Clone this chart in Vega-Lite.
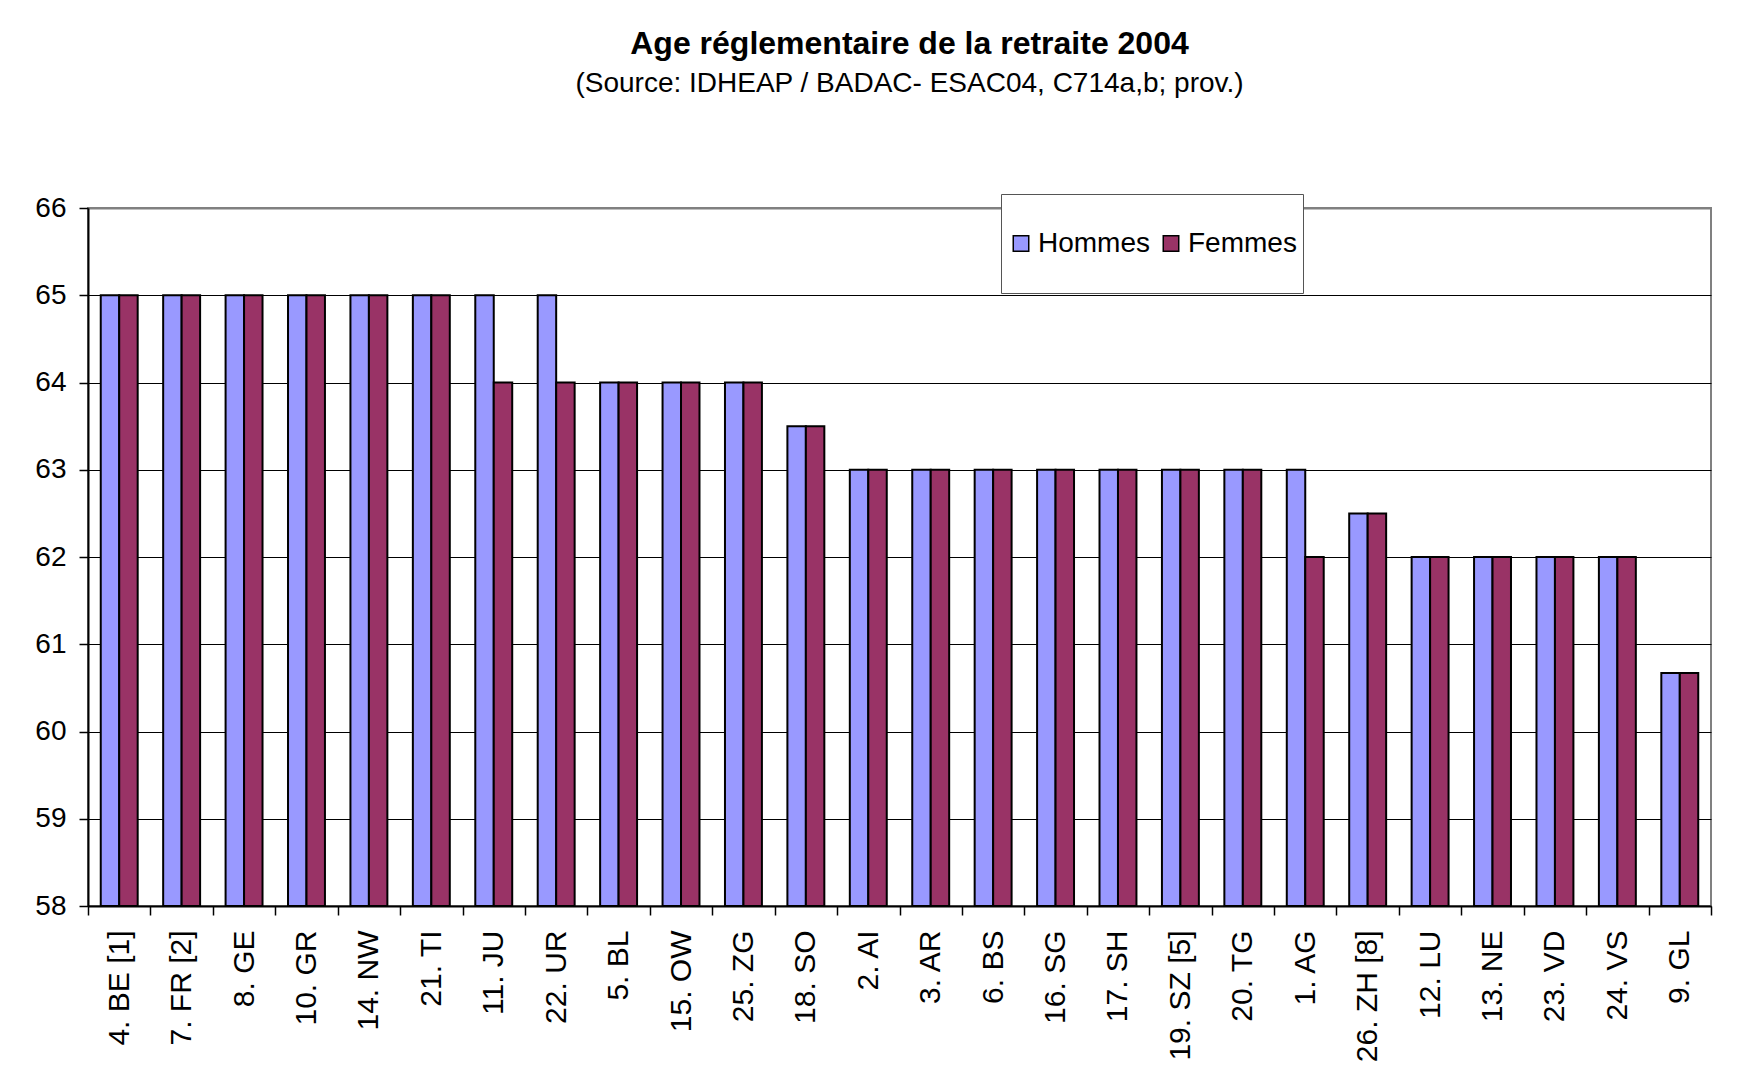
{
  "$schema": "https://vega.github.io/schema/vega-lite/v6.json",
  "width": 1623,
  "height": 698,
  "autosize": {"type": "none"},
  "padding": {"left": 88, "top": 208, "right": 31, "bottom": 181},
  "background": "white",
  "title": {
    "text": "Age réglementaire de la retraite 2004",
    "subtitle": "(Source: IDHEAP / BADAC- ESAC04, C714a,b; prov.)",
    "font": "Liberation Sans",
    "fontSize": 32,
    "fontWeight": "bold",
    "color": "black",
    "subtitleFont": "Liberation Sans",
    "subtitleFontSize": 28,
    "subtitleColor": "black",
    "subtitlePadding": 9,
    "anchor": "middle",
    "dx": 10,
    "offset": 95
  },
  "data": {
    "values": [
      {"canton": "4. BE [1]", "sexe": "Hommes", "age": 65}, {"canton": "4. BE [1]", "sexe": "Femmes", "age": 65},
      {"canton": "7. FR [2]", "sexe": "Hommes", "age": 65}, {"canton": "7. FR [2]", "sexe": "Femmes", "age": 65},
      {"canton": "8. GE", "sexe": "Hommes", "age": 65}, {"canton": "8. GE", "sexe": "Femmes", "age": 65},
      {"canton": "10. GR", "sexe": "Hommes", "age": 65}, {"canton": "10. GR", "sexe": "Femmes", "age": 65},
      {"canton": "14. NW", "sexe": "Hommes", "age": 65}, {"canton": "14. NW", "sexe": "Femmes", "age": 65},
      {"canton": "21. TI", "sexe": "Hommes", "age": 65}, {"canton": "21. TI", "sexe": "Femmes", "age": 65},
      {"canton": "11. JU", "sexe": "Hommes", "age": 65}, {"canton": "11. JU", "sexe": "Femmes", "age": 64},
      {"canton": "22. UR", "sexe": "Hommes", "age": 65}, {"canton": "22. UR", "sexe": "Femmes", "age": 64},
      {"canton": "5. BL", "sexe": "Hommes", "age": 64}, {"canton": "5. BL", "sexe": "Femmes", "age": 64},
      {"canton": "15. OW", "sexe": "Hommes", "age": 64}, {"canton": "15. OW", "sexe": "Femmes", "age": 64},
      {"canton": "25. ZG", "sexe": "Hommes", "age": 64}, {"canton": "25. ZG", "sexe": "Femmes", "age": 64},
      {"canton": "18. SO", "sexe": "Hommes", "age": 63.5}, {"canton": "18. SO", "sexe": "Femmes", "age": 63.5},
      {"canton": "2. AI", "sexe": "Hommes", "age": 63}, {"canton": "2. AI", "sexe": "Femmes", "age": 63},
      {"canton": "3. AR", "sexe": "Hommes", "age": 63}, {"canton": "3. AR", "sexe": "Femmes", "age": 63},
      {"canton": "6. BS", "sexe": "Hommes", "age": 63}, {"canton": "6. BS", "sexe": "Femmes", "age": 63},
      {"canton": "16. SG", "sexe": "Hommes", "age": 63}, {"canton": "16. SG", "sexe": "Femmes", "age": 63},
      {"canton": "17. SH", "sexe": "Hommes", "age": 63}, {"canton": "17. SH", "sexe": "Femmes", "age": 63},
      {"canton": "19. SZ [5]", "sexe": "Hommes", "age": 63}, {"canton": "19. SZ [5]", "sexe": "Femmes", "age": 63},
      {"canton": "20. TG", "sexe": "Hommes", "age": 63}, {"canton": "20. TG", "sexe": "Femmes", "age": 63},
      {"canton": "1. AG", "sexe": "Hommes", "age": 63}, {"canton": "1. AG", "sexe": "Femmes", "age": 62},
      {"canton": "26. ZH [8]", "sexe": "Hommes", "age": 62.5}, {"canton": "26. ZH [8]", "sexe": "Femmes", "age": 62.5},
      {"canton": "12. LU", "sexe": "Hommes", "age": 62}, {"canton": "12. LU", "sexe": "Femmes", "age": 62},
      {"canton": "13. NE", "sexe": "Hommes", "age": 62}, {"canton": "13. NE", "sexe": "Femmes", "age": 62},
      {"canton": "23. VD", "sexe": "Hommes", "age": 62}, {"canton": "23. VD", "sexe": "Femmes", "age": 62},
      {"canton": "24. VS", "sexe": "Hommes", "age": 62}, {"canton": "24. VS", "sexe": "Femmes", "age": 62},
      {"canton": "9. GL", "sexe": "Hommes", "age": 60.67}, {"canton": "9. GL", "sexe": "Femmes", "age": 60.67}
    ]
  },
  "mark": {"type": "bar", "stroke": "black", "strokeWidth": 2},
  "encoding": {
    "x": {
      "field": "canton",
      "type": "nominal",
      "sort": null,
      "scale": {"paddingInner": 0, "paddingOuter": 0},
      "axis": {
        "title": null,
        "labelAngle": -90,
        "labelFont": "Liberation Sans",
        "labelFontSize": 30,
        "labelColor": "black",
        "labelPadding": 15,
        "tickBand": "extent",
        "tickSize": 9,
        "tickColor": "black",
        "tickWidth": 1.5,
        "domainColor": "black",
        "domainWidth": 2,
        "grid": false
      }
    },
    "xOffset": {
      "field": "sexe",
      "type": "nominal",
      "sort": ["Hommes", "Femmes"],
      "scale": {"paddingInner": 0, "paddingOuter": 0.69}
    },
    "y": {
      "field": "age",
      "type": "quantitative",
      "scale": {"domain": [58, 66], "zero": false, "nice": false},
      "axis": {
        "title": null,
        "values": [58, 59, 60, 61, 62, 63, 64, 65, 66],
        "labelFont": "Liberation Sans",
        "labelFontSize": 28,
        "labelColor": "black",
        "labelPadding": 13,
        "tickSize": 9,
        "tickColor": "black",
        "tickWidth": 1.5,
        "domainColor": "black",
        "domainWidth": 2,
        "grid": true,
        "gridColor": {"condition": {"test": "datum.value === 66", "value": "#808080"}, "value": "black"},
        "gridWidth": {"condition": {"test": "datum.value === 66", "value": 2}, "value": 1},
        "gridOpacity": 1
      }
    },
    "y2": {"datum": 58},
    "color": {
      "field": "sexe",
      "type": "nominal",
      "scale": {"domain": ["Hommes", "Femmes"], "range": ["#9999FF", "#993366"]},
      "legend": {
        "title": null,
        "orient": "none",
        "legendX": 913,
        "legendY": -14,
        "direction": "horizontal",
        "fillColor": "white",
        "strokeColor": "#555555",
        "padding": 6,
        "clipHeight": 87,
        "columnPadding": 6,
        "labelOffset": 3,
        "labelFont": "Liberation Sans",
        "labelFontSize": 28,
        "labelColor": "black",
        "symbolType": "square",
        "symbolSize": 240,
        "symbolStrokeColor": "black",
        "symbolStrokeWidth": 1.5,
        "symbolOpacity": 1
      }
    }
  },
  "config": {
    "view": {"stroke": "#808080", "strokeWidth": 2},
    "font": "Liberation Sans"
  }
}
